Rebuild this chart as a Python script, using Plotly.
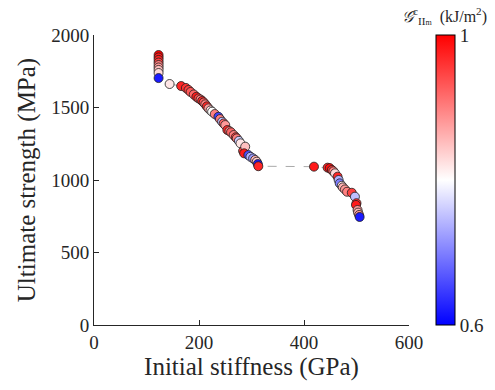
import plotly.graph_objects as go

# Initial stiffness (GPa)
stiffness = [123, 123, 123, 123, 123, 123, 123, 123, 123,
             144, 166, 175, 180, 184, 190, 195, 199, 203, 206, 209,
             212, 215, 218, 222, 225, 230, 237, 240, 244, 247,
             250, 254, 258, 261, 266, 270, 272, 276, 279, 284,
             288, 286, 294, 298, 303, 307, 310, 312, 313,
             419, 445, 449, 453, 456, 459, 464, 466, 468, 472,
             474, 478, 482, 491, 497, 500, 499, 502, 503, 505, 506]
# Ultimate strength (MPa)
strength = [1862, 1845, 1828, 1810, 1793, 1776, 1759, 1738, 1703,
            1662, 1648, 1635, 1621, 1607, 1590, 1574, 1563, 1555, 1545, 1535,
            1522, 1508, 1494, 1480, 1471, 1455, 1436, 1420, 1402, 1390,
            1379, 1345, 1337, 1329, 1310, 1295, 1287, 1270, 1253, 1200,
            1230, 1184, 1172, 1160, 1149, 1138, 1126, 1110, 1095,
            1092, 1085, 1082, 1069, 1060, 1046, 1023, 1000, 977, 960,
            949, 935, 919, 912, 885, 840, 828, 793, 775, 759, 745]
# Fracture toughness G_IIm^c (kJ/m^2)
toughness = [1.0, 0.98, 0.97, 0.95, 0.9, 0.88, 0.85, 0.83, 0.62,
             0.82, 0.97, 0.96, 0.95, 0.93, 0.92, 0.98, 0.95, 0.9, 0.97, 0.93,
             0.9, 0.97, 0.88, 0.82, 0.8, 0.9, 0.65, 0.9, 0.75, 0.92,
             0.88, 0.97, 0.9, 0.92, 0.9, 0.95, 0.9, 0.76, 0.82, 0.95,
             0.85, 0.98, 0.66, 0.74, 0.72, 0.86, 0.84, 0.62, 0.97,
             0.98, 0.97, 0.99, 0.96, 0.9, 0.83, 0.97, 0.74, 0.7, 0.82,
             0.86, 0.88, 0.9, 0.95, 0.75, 0.96, 0.98, 0.88, 0.86, 0.88, 0.62]

x_ticks = [0, 200, 400, 600]
y_ticks = [0, 500, 1000, 1500, 2000]
cbar_ticks = [0.6, 1]

FONT = "Liberation Serif"
bwr = [[0, "rgb(0,0,255)"], [0.5, "rgb(255,255,255)"], [1, "rgb(255,0,0)"]]

fig = go.Figure()
fig.add_trace(go.Scatter(
    x=stiffness, y=strength, mode="lines+markers",
    line=dict(color="rgb(170,170,170)", width=1, dash="dash"),
    marker=dict(
        size=9, color=toughness, colorscale=bwr, cmin=0.6, cmax=1,
        line=dict(color="rgb(30,30,30)", width=0.8),
        colorbar=dict(
            x=(436 - 93.5) / 315.5, xanchor="left", xpad=0, ypad=0,
            y=0.5, yanchor="middle", len=1, lenmode="fraction",
            thickness=19, outlinecolor="black", outlinewidth=1,
            tickvals=cbar_ticks, ticktext=["0.6", "1"], ticks="",
            tickfont=dict(family=FONT, size=19, color="#262626"),
        ),
    ),
    showlegend=False, hoverinfo="skip",
))

axis_common = dict(
    showline=True, linecolor="#262626", linewidth=1, mirror=False,
    ticks="inside", ticklen=5, tickcolor="#262626",
    showgrid=False, zeroline=False,
    tickfont=dict(family=FONT, size=19, color="#262626"),
)
fig.update_xaxes(range=[0, 600], tickvals=x_ticks, **axis_common,
                 title=dict(text="Initial stiffness (GPa)",
                            font=dict(family=FONT, size=25, color="#262626"),
                            standoff=5))
fig.update_yaxes(range=[0, 2000], tickvals=y_ticks, **axis_common,
                 title=dict(text="Ultimate strength (MPa)",
                            font=dict(family=FONT, size=25, color="#262626"),
                            standoff=8))

fig.add_annotation(
    xref="paper", yref="paper", x=(445 - 93.5) / 315.5, y=1.0,
    xanchor="center", yanchor="bottom", yshift=6, showarrow=False,
    text="<i>𝒢</i><sup>c</sup><sub>II<span style='font-size:8px'>m</span></sub>  (kJ/m<sup>2</sup>)",
    font=dict(family=FONT, size=16, color="#262626"),
)

fig.update_layout(
    width=495, height=390,
    margin=dict(l=93.5, r=86, t=35, b=65),
    paper_bgcolor="white", plot_bgcolor="white",
)
fig.write_html("out.html")
